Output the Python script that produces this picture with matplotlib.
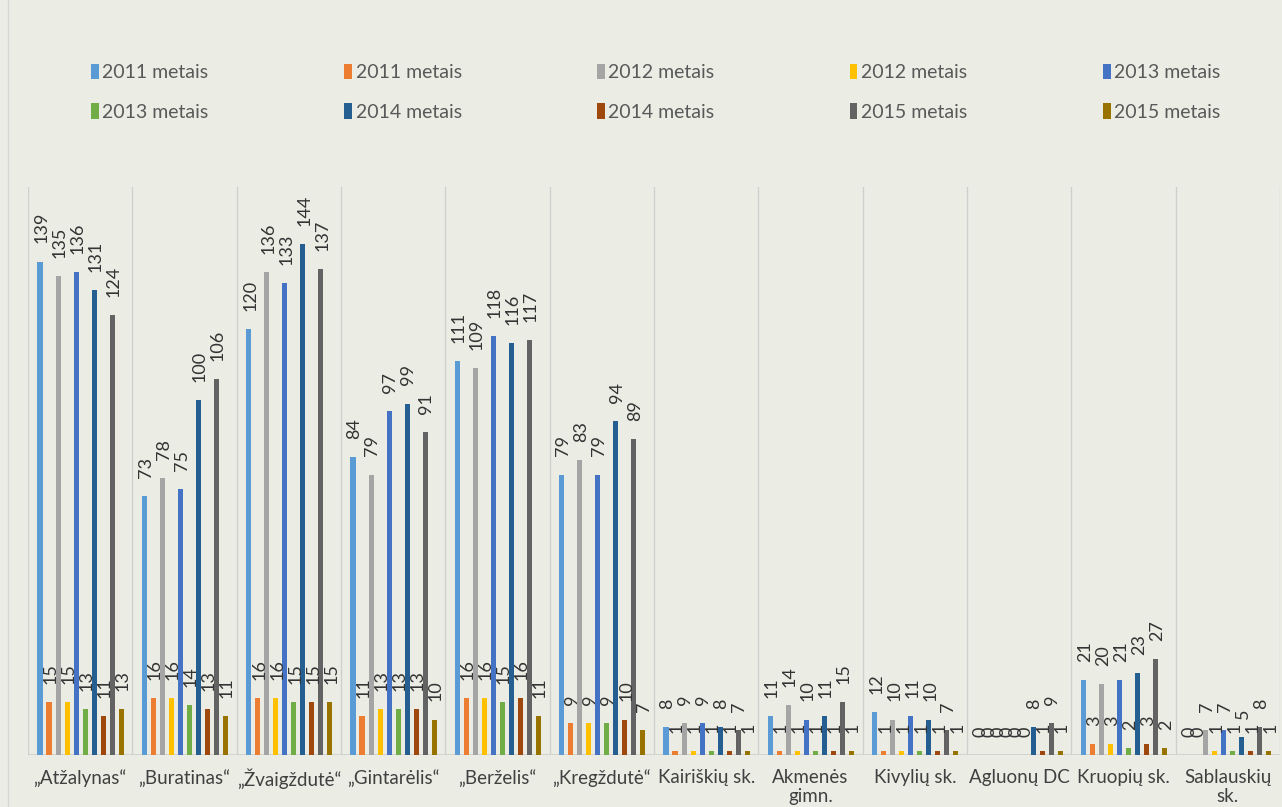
import matplotlib
matplotlib.use("Agg")
import matplotlib.pyplot as plt
from matplotlib.patches import Patch
import numpy as np

plt.rcParams['font.family'] = ['Lato', 'DejaVu Sans']

# categories (kindergartens / schools)
categories = ['„Atžalynas“', '„Buratinas“', '„Žvaigždutė“', '„Gintarėlis“',
              '„Berželis“', '„Kregždutė“', 'Kairiškių sk.', 'Akmenės\ngimn.',
              'Kivylių sk.', 'Agluonų DC', 'Kruopių sk.', 'Sablauskių\nsk.']

# series: children (vaikai) and groups (grupės) per year
labels = ['2011 metais', '2011 metais', '2012 metais', '2012 metais', '2013 metais',
          '2013 metais', '2014 metais', '2014 metais', '2015 metais', '2015 metais']
colors = ['#5B9BD5', '#ED7D31', '#A5A5A5', '#FFC000', '#4472C4',
          '#70AD47', '#255E91', '#9E480E', '#636363', '#997300']

kids_2011 = [139, 73, 120, 84, 111, 79, 8, 11, 12, 0, 21, 0]
grp_2011 = [15, 16, 16, 11, 16, 9, 1, 1, 1, 0, 3, 0]
kids_2012 = [135, 78, 136, 79, 109, 83, 9, 14, 10, 0, 20, 7]
grp_2012 = [15, 16, 16, 13, 16, 9, 1, 1, 1, 0, 3, 1]
kids_2013 = [136, 75, 133, 97, 118, 79, 9, 10, 11, 0, 21, 7]
grp_2013 = [13, 14, 15, 13, 15, 9, 1, 1, 1, 0, 2, 1]
kids_2014 = [131, 100, 144, 99, 116, 94, 8, 11, 10, 8, 23, 5]
grp_2014 = [11, 13, 15, 13, 16, 10, 1, 1, 1, 1, 3, 1]
kids_2015 = [124, 106, 137, 91, 117, 89, 7, 15, 7, 9, 27, 8]
grp_2015 = [13, 11, 15, 10, 11, 7, 1, 1, 1, 1, 2, 1]

series = [kids_2011, grp_2011, kids_2012, grp_2012, kids_2013,
          grp_2013, kids_2014, grp_2014, kids_2015, grp_2015]

bg = '#ebede5'
fig = plt.figure(figsize=(12.82, 8.07), dpi=100, facecolor=bg)
ax = fig.add_axes([28 / 1282, 52 / 807, 1252 / 1282, 568 / 807])
ax.set_facecolor(bg)

x = np.arange(len(categories))
pitch = 0.0863
bw = 0.048
first = -0.385

for j, vals in enumerate(series):
    xs = x + first + j * pitch
    ax.bar(xs, vals, width=bw, color=colors[j], zorder=3)
    for xi, v in zip(xs, vals):
        ax.annotate(str(v), (xi, v), xytext=(1, 13), textcoords='offset points',
                    rotation=90, ha='center', va='bottom', fontsize=13,
                    color='#333333', zorder=4)

ax.set_xlim(-0.5, len(categories) - 0.5)
ax.set_ylim(0, 160)
for k in range(len(categories) + 1):
    ax.axvline(k - 0.5, color='#cfd0cc', lw=1, zorder=1)
ax.axhline(0, color='#cfd0cc', lw=2, zorder=2)

ax.set_xticks(x)
ax.set_xticklabels(categories, fontsize=13.5, color='#404040', linespacing=1.15)
ax.tick_params(axis='x', length=0, pad=10)
ax.set_yticks([])
for s in ax.spines.values():
    s.set_visible(False)

# legend: two rows of five, filled row by row
order = [0, 5, 1, 6, 2, 7, 3, 8, 4, 9]
handles = [Patch(facecolor=colors[i], edgecolor='none') for i in order]
fig.legend(handles, [labels[i] for i in order], ncol=5, frameon=False,
           loc='upper left', bbox_to_anchor=(83 / 1282, 1 - 56 / 807),
           fontsize=14, labelcolor='#595959',
           handlelength=0.4, handleheight=0.85, handletextpad=0.2,
           columnspacing=6.95, labelspacing=1.12, borderaxespad=0)

fig.add_artist(plt.Line2D([8 / 1282, 8 / 1282], [0, 1], color='#d6d7d2', lw=1))

fig.savefig('out.png', dpi=100, facecolor=bg)
